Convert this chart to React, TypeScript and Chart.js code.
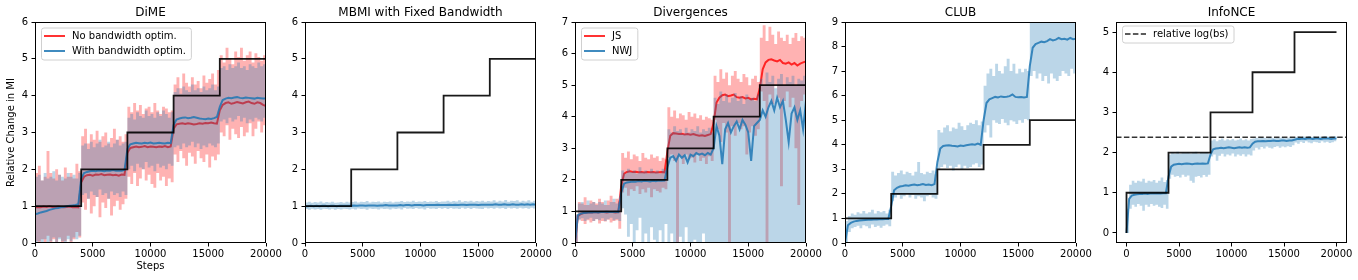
import React, { useEffect, useRef } from 'react';
import { Chart, registerables } from 'chart.js';

Chart.register(...registerables);

const FONT = '"DejaVu Sans", Verdana, sans-serif';

// sample positions (training steps) for all noisy series
const steps: number[] = Array.from({ length: 81 }, (_, i) => i * 250);
// ground truth (relative change in MI)
const truthSteps = [0, 0, 4000, 8000, 12000, 16000, 20000];
const truthValues = [0, 1, 2, 3, 4, 5, 5];
const xTicks = [0, 5000, 10000, 15000, 20000];
const logBsLevel = 2.38;

// ---------- DiME ----------
const dimeRedUpper = [
  1.9, 2.1, 1.7, 1.8, 2.5, 1.9, 1.75, 2.0, 1.85, 1.7, 2.05, 1.8, 1.9, 1.75, 2.15, 1.95,
  2.9, 3.1, 2.7, 2.95, 2.8, 3.05, 2.75, 2.9, 3.0, 2.7, 2.85, 3.1, 2.8, 2.9, 2.75, 2.95,
  3.7, 3.55, 3.8, 3.6, 3.75, 3.5, 3.65, 3.7, 3.55, 3.8, 3.6, 3.5, 3.7, 3.65, 3.55, 3.6,
  4.3, 4.5, 4.2, 4.6, 4.35, 4.25, 4.5, 4.3, 4.4, 4.2, 4.55, 4.35, 4.45, 4.6, 4.3, 4.7,
  5.1, 4.9, 5.3, 5.0, 4.85, 5.2, 5.05, 5.3, 4.95, 5.1, 5.2, 4.9, 5.15, 5.05, 4.95, 5.1, 5.0,
];
const dimeRedLower = [
  0.05, -0.1, 0.1, 0.0, 0.2, -0.05, 0.1, 0.0, 0.15, -0.1, 0.05, 0.2, 0.0, 0.1, 0.3, 0.15,
  1.1, 0.9, 1.2, 0.8, 1.0, 1.25, 0.7, 1.1, 0.95, 1.2, 0.75, 1.0, 1.15, 0.9, 1.05, 1.2,
  1.8, 1.6, 1.9, 1.55, 1.75, 2.0, 1.7, 1.85, 1.6, 1.5, 1.9, 1.7, 1.8, 1.55, 1.75, 1.65,
  2.4, 2.2, 2.5, 2.3, 2.1, 2.45, 2.35, 2.15, 2.5, 2.3, 2.2, 2.4, 2.05, 2.35, 2.25, 2.4,
  3.0, 2.9, 3.2, 2.8, 3.1, 2.95, 2.85, 3.15, 2.9, 3.0, 3.25, 2.9, 3.1, 3.3, 3.0, 3.2, 3.1,
];
const dimeRedMean = [
  0.97, 0.98, 0.97, 0.99, 0.98, 1.0, 0.98, 0.97, 0.99, 0.98, 0.97, 0.98, 0.99, 0.97, 0.98, 0.97,
  1.65, 1.8, 1.84, 1.85, 1.83, 1.86, 1.85, 1.87, 1.84, 1.85, 1.86, 1.84, 1.85, 1.83, 1.86, 1.85,
  2.45, 2.58, 2.6, 2.62, 2.6, 2.61, 2.63, 2.6, 2.62, 2.61, 2.6, 2.62, 2.61, 2.63, 2.6, 2.62,
  3.1, 3.22, 3.24, 3.25, 3.23, 3.25, 3.24, 3.22, 3.23, 3.25, 3.24, 3.26, 3.25, 3.27, 3.25, 3.24,
  3.6, 3.75, 3.8, 3.82, 3.78, 3.8, 3.83, 3.81, 3.79, 3.82, 3.84, 3.8, 3.78, 3.82, 3.8, 3.75, 3.72,
];
const dimeBlueUpper = [
  1.8, 1.85, 1.7, 1.9, 1.75, 1.8, 1.95, 1.7, 1.85, 1.8, 1.75, 1.9, 1.8, 1.85, 1.75, 1.9,
  2.65, 2.7, 2.55, 2.75, 2.6, 2.7, 2.8, 2.6, 2.65, 2.75, 2.6, 2.7, 2.8, 2.65, 2.7, 2.75,
  3.4, 3.5, 3.35, 3.55, 3.45, 3.4, 3.6, 3.45, 3.5, 3.4, 3.55, 3.45, 3.6, 3.5, 3.4, 3.55,
  4.1, 4.2, 4.05, 4.25, 4.15, 4.1, 4.3, 4.15, 4.2, 4.1, 4.25, 4.15, 4.2, 4.3, 4.15, 4.25,
  4.75, 4.8, 4.7, 4.85, 4.75, 4.8, 4.9, 4.75, 4.8, 4.7, 4.85, 4.8, 4.75, 4.9, 4.8, 4.85, 4.8,
];
const dimeBlueLower = [
  0.0, 0.05, -0.05, 0.1, 0.0, 0.05, 0.15, 0.0, 0.1, 0.05, 0.0, 0.1, 0.05, 0.15, 0.1, 0.2,
  1.3, 1.35, 1.2, 1.4, 1.3, 1.25, 1.45, 1.3, 1.35, 1.2, 1.4, 1.3, 1.35, 1.25, 1.4, 1.3,
  2.0, 2.1, 1.95, 2.15, 2.05, 2.0, 2.2, 2.05, 2.1, 1.95, 2.15, 2.05, 2.1, 2.0, 2.15, 2.1,
  2.6, 2.65, 2.55, 2.7, 2.6, 2.65, 2.75, 2.6, 2.7, 2.55, 2.65, 2.6, 2.7, 2.65, 2.6, 2.7,
  3.3, 3.35, 3.25, 3.4, 3.3, 3.35, 3.45, 3.3, 3.4, 3.25, 3.35, 3.3, 3.4, 3.35, 3.3, 3.4, 3.35,
];
const dimeBlueMean = [
  0.78, 0.8, 0.83, 0.85, 0.87, 0.9, 0.92, 0.94, 0.95, 0.97, 0.98, 1.0, 1.01, 1.02, 1.03, 1.05,
  1.75, 1.9, 1.93, 1.95, 1.96, 1.95, 1.97, 1.96, 1.95, 1.97, 1.96, 1.98, 1.96, 1.97, 1.96, 1.98,
  2.55, 2.68, 2.7, 2.72, 2.71, 2.7, 2.72, 2.71, 2.73, 2.7, 2.71, 2.72, 2.71, 2.7, 2.72, 2.71,
  3.2, 3.35, 3.38, 3.4, 3.41, 3.39, 3.4, 3.42, 3.4, 3.38, 3.37, 3.36, 3.38, 3.37, 3.39, 3.42,
  3.7, 3.88, 3.92, 3.94, 3.93, 3.95, 3.96, 3.94, 3.93, 3.95, 3.94, 3.93, 3.92, 3.94, 3.93, 3.92, 3.92,
];

// ---------- MBMI with fixed bandwidth ----------
const mbmiUpper = [
  1.1, 1.12, 1.09, 1.11, 1.1, 1.13, 1.09, 1.11, 1.1, 1.12, 1.09, 1.1, 1.11, 1.09, 1.12, 1.1,
  1.11, 1.13, 1.1, 1.12, 1.11, 1.14, 1.1, 1.12, 1.11, 1.13, 1.1, 1.12, 1.11, 1.13, 1.1, 1.12,
  1.12, 1.14, 1.11, 1.13, 1.12, 1.15, 1.11, 1.13, 1.12, 1.14, 1.11, 1.13, 1.12, 1.14, 1.11, 1.13,
  1.13, 1.15, 1.12, 1.14, 1.13, 1.16, 1.12, 1.14, 1.13, 1.15, 1.12, 1.14, 1.13, 1.15, 1.12, 1.14,
  1.13, 1.16, 1.12, 1.15, 1.13, 1.17, 1.12, 1.15, 1.14, 1.16, 1.12, 1.15, 1.13, 1.16, 1.12, 1.15, 1.14,
];
const mbmiLower = [
  0.92, 0.9, 0.93, 0.91, 0.92, 0.9, 0.93, 0.92, 0.91, 0.93, 0.9, 0.92, 0.91, 0.93, 0.92, 0.91,
  0.93, 0.91, 0.94, 0.92, 0.93, 0.9, 0.94, 0.92, 0.93, 0.91, 0.94, 0.92, 0.93, 0.91, 0.94, 0.92,
  0.94, 0.91, 0.95, 0.93, 0.94, 0.92, 0.95, 0.93, 0.94, 0.91, 0.95, 0.93, 0.94, 0.92, 0.95, 0.93,
  0.95, 0.92, 0.95, 0.93, 0.94, 0.92, 0.96, 0.93, 0.95, 0.92, 0.95, 0.94, 0.93, 0.92, 0.96, 0.94,
  0.95, 0.93, 0.96, 0.94, 0.95, 0.92, 0.96, 0.94, 0.95, 0.93, 0.96, 0.94, 0.95, 0.93, 0.96, 0.94, 0.95,
];
const mbmiMean = [
  1.0, 1.0, 1.01, 1.0, 1.01, 1.0, 1.01, 1.01, 1.0, 1.01, 1.01, 1.0, 1.01, 1.01, 1.01, 1.01,
  1.01, 1.02, 1.01, 1.02, 1.02, 1.01, 1.02, 1.02, 1.02, 1.01, 1.02, 1.02, 1.03, 1.02, 1.02, 1.02,
  1.02, 1.03, 1.02, 1.03, 1.03, 1.02, 1.03, 1.03, 1.03, 1.02, 1.03, 1.03, 1.03, 1.03, 1.04, 1.03,
  1.03, 1.03, 1.04, 1.03, 1.04, 1.03, 1.04, 1.04, 1.03, 1.04, 1.04, 1.04, 1.03, 1.04, 1.04, 1.04,
  1.04, 1.04, 1.05, 1.04, 1.04, 1.05, 1.04, 1.04, 1.05, 1.04, 1.04, 1.05, 1.04, 1.05, 1.04, 1.05, 1.04,
];

// ---------- Divergences ----------
const jsUpper = [
  0.9, 1.3, 1.25, 1.45, 1.2, 1.35, 1.3, 1.25, 1.4, 1.3, 1.2, 1.35, 1.5, 1.3, 1.4, 1.35,
  2.85, 2.7, 2.9, 2.65, 2.8, 2.75, 2.6, 2.85, 2.7, 2.65, 2.8, 2.7, 2.75, 2.6, 2.7, 2.65,
  4.3, 4.0, 4.2, 3.95, 4.1, 4.05, 3.9, 4.15, 4.0, 4.1, 3.95, 4.05, 3.9, 4.0, 3.95, 3.9,
  5.3, 5.1, 5.5, 5.2, 5.4, 5.0, 5.3, 5.45, 5.2, 5.1, 5.35, 5.25, 5.0, 5.2, 5.3, 5.1,
  6.5, 6.9, 6.4, 6.85, 6.6, 6.3, 6.7, 6.5, 6.4, 6.6, 6.3, 6.5, 6.65, 6.4, 6.55, 6.5, 6.5,
];
const jsLower = [
  0.0, 0.75, 0.7, 0.6, 0.72, 0.65, 0.7, 0.75, 0.62, 0.7, 0.68, 0.74, 0.65, 0.7, 0.72, 0.45,
  1.6, 1.75, 1.5, 1.7, 1.65, 1.8, 1.55, 1.7, 1.6, 1.75, 1.45, 1.7, 1.65, 1.6, 1.75, 1.7,
  2.7, 2.8, 2.6, 0.0, 2.75, 2.5, 2.8, 2.65, 2.7, 2.55, 2.8, 2.6, 2.7, 2.5, 2.75, 2.6,
  3.9, 3.6, 3.2, 3.8, 3.5, 0.0, 3.7, 3.4, 3.8, 3.6, 3.7, 2.8, 3.5, 3.7, 3.4, 3.6,
  4.8, 4.5, 0.0, 4.7, 4.4, 5.0, 4.6, 1.8, 4.5, 4.8, 4.3, 4.6, 3.0, 1.2, 4.5, 4.7, 4.6,
];
const jsMean = [
  0.0, 0.85, 0.92, 0.95, 0.96, 0.97, 0.97, 0.98, 0.97, 0.98, 0.98, 0.97, 0.98, 0.98, 0.97, 0.98,
  1.8, 2.2, 2.25, 2.27, 2.25, 2.26, 2.24, 2.25, 2.23, 2.25, 2.24, 2.25, 2.23, 2.24, 2.25, 2.24,
  2.9, 3.4, 3.48, 3.47, 3.45, 3.46, 3.44, 3.45, 3.43, 3.45, 3.42, 3.4, 3.41, 3.39, 3.42, 3.45,
  3.8, 4.45, 4.6, 4.68, 4.7, 4.65, 4.67, 4.7, 4.62, 4.6, 4.62, 4.58, 4.6, 4.55, 4.57, 4.55,
  4.9, 5.5, 5.72, 5.8, 5.82, 5.78, 5.75, 5.8, 5.7, 5.68, 5.72, 5.65, 5.7, 5.62, 5.68, 5.72, 5.75,
];
const nwjUpper = [
  0.9, 1.25, 1.3, 1.2, 1.35, 1.25, 1.3, 1.2, 1.3, 1.25, 1.35, 1.2, 1.3, 1.4, 1.25, 1.3,
  2.3, 2.2, 2.35, 2.25, 2.3, 2.2, 2.4, 2.25, 2.3, 2.2, 2.35, 2.25, 2.3, 2.2, 2.35, 2.3,
  3.6, 3.5, 3.7, 3.55, 3.6, 3.45, 3.65, 3.5, 3.6, 3.55, 3.7, 3.5, 3.6, 3.55, 3.65, 3.5,
  4.6, 4.4, 4.8, 4.5, 4.7, 4.45, 4.6, 4.75, 4.5, 4.65, 4.4, 4.7, 4.55, 4.6, 4.5, 4.7,
  5.2, 5.0, 5.4, 5.1, 5.3, 4.9, 5.2, 5.35, 5.0, 5.25, 5.1, 5.3, 5.0, 5.2, 5.15, 5.3, 5.2,
];
const nwjLower = [
  0.0, 0.72, 0.78, 0.7, 0.75, 0.8, 0.7, 0.76, 0.72, 0.78, 0.7, 0.75, 0.8, 0.72, 0.76, 0.7,
  1.1, 0.9, 0.2, 0.6, 0.0, 0.4, 0.8, 0.0, 0.3, 0.0, 0.5, 0.1, 0.0, 0.4, 0.0, 0.6,
  0.0, 0.3, 0.0, 0.0, 0.2, 0.0, 0.5, 0.0, 0.0, 0.1, 0.0, 0.0, 0.3, 0.0, 0.0, 0.0,
  0, 0, 0, 0, 0, 0, 0, 0, 0, 0, 0, 0, 0, 0, 0, 0,
  0, 0, 0, 0, 0, 0, 0, 0, 0, 0, 0, 0, 0, 0, 0, 0, 0,
];
const nwjMean = [
  0.0, 0.88, 0.93, 0.95, 0.96, 0.97, 0.97, 0.98, 0.97, 0.98, 0.98, 0.99, 0.98, 0.98, 0.99, 0.98,
  1.6, 1.88, 1.92, 1.93, 1.95, 1.94, 1.96, 1.95, 1.97, 1.96, 1.95, 1.97, 1.96, 1.98, 1.97, 1.98,
  2.4, 2.7, 2.75, 2.6, 2.8, 2.7, 2.78, 2.55, 2.8, 2.75, 2.85, 2.8, 2.83, 2.78, 2.85, 2.8,
  3.0, 3.7, 3.4, 2.5, 3.6, 3.8, 3.5, 3.7, 3.85, 3.6, 3.9, 3.75, 3.5, 2.6, 3.7, 3.8,
  3.9, 4.2, 4.0, 4.3, 4.5, 4.2, 4.6, 4.3, 4.5, 3.9, 3.2, 4.1, 4.3, 3.9, 4.2, 3.6, 4.5,
];

// ---------- CLUB ----------
const clubUpper = [
  0.9, 1.1, 1.2, 1.15, 1.25, 1.2, 1.3, 1.2, 1.25, 1.35, 1.2, 1.3, 1.25, 1.3, 1.2, 1.35,
  2.9, 2.75, 2.85, 2.95, 2.8, 2.9, 2.85, 2.75, 2.9, 3.3, 2.85, 2.8, 2.9, 2.85, 2.95, 2.8,
  4.6, 4.5, 4.7, 4.8, 4.55, 4.7, 4.65, 4.9, 4.75, 4.6, 4.8, 4.9, 4.85, 5.0, 4.8, 4.95,
  6.4, 6.9, 7.1, 6.8, 7.3, 7.0, 6.9, 7.2, 7.5, 7.0, 7.3, 6.9, 7.1, 6.95, 7.1, 7.0,
  9.6, 9.8, 9.5, 10.0, 9.7, 9.9, 9.6, 10.1, 9.8, 9.7, 9.9, 10.0, 9.6, 9.8, 9.9, 9.7, 9.8,
];
const clubLower = [
  0.0, 0.45, 0.6, 0.65, 0.7, 0.6, 0.72, 0.68, 0.6, 0.75, 0.65, 0.7, 0.62, 0.7, 0.75, 0.68,
  1.7, 1.85, 1.95, 1.8, 1.9, 2.0, 1.85, 1.95, 1.8, 1.9, 1.85, 1.7, 1.9, 1.95, 1.85, 1.8,
  3.0, 3.1, 3.2, 3.05, 3.15, 2.95, 3.1, 3.2, 3.0, 3.15, 3.05, 3.1, 3.2, 3.25, 3.1, 3.2,
  4.5, 4.8, 4.3, 5.0, 4.9, 4.85, 5.05, 4.9, 4.8, 5.0, 4.95, 4.85, 5.0, 4.9, 5.05, 5.0,
  6.8, 7.0, 6.7, 6.9, 6.6, 6.8, 6.5, 6.9, 6.7, 6.6, 6.8, 7.0, 6.9, 6.8, 7.1, 6.9, 7.0,
];
const clubMean = [
  0.0, 0.72, 0.82, 0.87, 0.9, 0.92, 0.93, 0.94, 0.95, 0.95, 0.96, 0.96, 0.97, 0.97, 0.98, 0.98,
  1.5, 2.15, 2.25, 2.3, 2.32, 2.35, 2.33, 2.36, 2.38, 2.35, 2.37, 2.4, 2.36, 2.38, 2.35, 2.4,
  3.3, 3.85, 3.95, 3.97, 3.98, 3.96, 3.95, 3.93, 3.97, 3.95, 3.98, 4.0, 4.02, 4.0, 4.05, 4.0,
  5.0, 5.7, 5.85, 5.9, 5.95, 5.93, 5.97, 5.95, 5.96, 5.98, 6.05, 5.95, 5.94, 5.95, 5.93, 5.95,
  7.2, 7.95, 8.1, 8.15, 8.2, 8.18, 8.22, 8.3, 8.25, 8.28, 8.35, 8.3, 8.32, 8.28, 8.35, 8.3, 8.32,
];

// ---------- InfoNCE ----------
const nceUpper = [
  0.6, 1.2, 1.3, 1.25, 1.3, 1.28, 1.35, 1.25, 1.3, 1.28, 1.32, 1.25, 1.3, 1.38, 1.27, 1.32,
  1.95, 2.0, 1.98, 2.02, 1.97, 2.0, 1.99, 2.01, 1.98, 2.0, 2.02, 1.97, 2.0, 1.99, 2.01, 1.98,
  2.3, 2.33, 2.28, 2.32, 2.35, 2.3, 2.33, 2.31, 2.34, 2.3, 2.32, 2.35, 2.31, 2.33, 2.3, 2.34,
  2.35, 2.37, 2.36, 2.38, 2.37, 2.36, 2.38, 2.37, 2.36, 2.38, 2.37, 2.38, 2.36, 2.37, 2.38, 2.37,
  2.39, 2.4, 2.38, 2.4, 2.39, 2.41, 2.39, 2.4, 2.38, 2.4, 2.39, 2.41, 2.4, 2.39, 2.4, 2.41, 2.4,
];
const nceLower = [
  0.0, 0.6, 0.7, 0.65, 0.72, 0.68, 0.55, 0.7, 0.65, 0.72, 0.68, 0.7, 0.65, 0.62, 0.7, 0.6,
  1.35, 1.45, 1.4, 1.42, 1.38, 1.45, 1.4, 1.43, 1.3, 1.25, 1.4, 1.42, 1.38, 1.44, 1.4, 1.45,
  1.9, 1.95, 1.8, 1.92, 1.97, 1.9, 1.95, 1.93, 1.98, 1.9, 1.95, 1.92, 1.96, 1.9, 1.95, 1.93,
  2.05, 2.12, 2.08, 2.14, 2.1, 2.15, 2.12, 2.1, 2.14, 2.16, 2.12, 2.15, 2.13, 2.16, 2.14, 2.18,
  2.25, 2.22, 2.27, 2.24, 2.28, 2.25, 2.23, 2.27, 2.26, 2.24, 2.28, 2.25, 2.27, 2.24, 2.26, 2.28, 2.26,
];
const nceMean = [
  0.0, 0.85, 0.93, 0.95, 0.96, 0.97, 0.97, 0.98, 0.97, 0.98, 0.98, 0.98, 0.99, 0.98, 0.99, 0.99,
  1.4, 1.65, 1.7, 1.71, 1.72, 1.71, 1.72, 1.73, 1.72, 1.71, 1.72, 1.73, 1.72, 1.73, 1.72, 1.73,
  1.95, 2.08, 2.1, 2.11, 2.12, 2.11, 2.12, 2.13, 2.12, 2.11, 2.12, 2.13, 2.12, 2.13, 2.12, 2.13,
  2.22, 2.27, 2.28, 2.28, 2.29, 2.28, 2.29, 2.29, 2.3, 2.29, 2.29, 2.3, 2.3, 2.29, 2.3, 2.3,
  2.32, 2.34, 2.34, 2.35, 2.34, 2.35, 2.35, 2.34, 2.35, 2.35, 2.34, 2.35, 2.35, 2.35, 2.34, 2.35, 2.35,
];

const RED_LINE = 'rgba(255,0,0,0.8)';
const RED_FILL = 'rgba(255,0,0,0.3)';
const BLUE_LINE = 'rgba(31,119,180,0.85)';
const BLUE_FILL = 'rgba(31,119,180,0.3)';
const TRUTH = 'rgba(0,0,0,0.9)';

type Band = { upper: number[]; lower: number[]; mean: number[]; line: string; fill: string };
type LegendItem = { label: string; color: string; dash?: boolean };
type Panel = {
  title: string;
  left: number;
  width: number;
  padRight: number;
  xMin: number;
  xMax: number;
  yMin: number;
  yMax: number;
  yTicks: number[];
  bands: Band[];
  hline?: number;
  legend?: { items: LegendItem[]; top: number };
  yTitle?: string;
  xTitle?: string;
};

const panels: Panel[] = [
  {
    title: 'DiME', left: 35, width: 231, padRight: 24, xMin: 0, xMax: 20000, yMin: 0, yMax: 6,
    yTicks: [0, 1, 2, 3, 4, 5, 6],
    bands: [
      { upper: dimeRedUpper, lower: dimeRedLower, mean: dimeRedMean, line: RED_LINE, fill: RED_FILL },
      { upper: dimeBlueUpper, lower: dimeBlueLower, mean: dimeBlueMean, line: BLUE_LINE, fill: BLUE_FILL },
    ],
    legend: {
      top: 5.5,
      items: [
        { label: 'No bandwidth optim.', color: RED_LINE },
        { label: 'With bandwidth optim.', color: BLUE_LINE },
      ],
    },
    yTitle: 'Relative Change in MI',
    xTitle: 'Steps',
  },
  {
    title: 'MBMI with Fixed Bandwidth', left: 305, width: 231, padRight: 24, xMin: 0, xMax: 20000, yMin: 0, yMax: 6,
    yTicks: [0, 1, 2, 3, 4, 5, 6],
    bands: [{ upper: mbmiUpper, lower: mbmiLower, mean: mbmiMean, line: BLUE_LINE, fill: BLUE_FILL }],
  },
  {
    title: 'Divergences', left: 575, width: 231, padRight: 24, xMin: 0, xMax: 20000, yMin: 0, yMax: 7,
    yTicks: [0, 1, 2, 3, 4, 5, 6, 7],
    bands: [
      { upper: jsUpper, lower: jsLower, mean: jsMean, line: RED_LINE, fill: RED_FILL },
      { upper: nwjUpper, lower: nwjLower, mean: nwjMean, line: BLUE_LINE, fill: BLUE_FILL },
    ],
    legend: {
      top: 5.5,
      items: [
        { label: 'JS', color: RED_LINE },
        { label: 'NWJ', color: BLUE_LINE },
      ],
    },
  },
  {
    title: 'CLUB', left: 845, width: 231, padRight: 24, xMin: 0, xMax: 20000, yMin: 0, yMax: 9,
    yTicks: [0, 1, 2, 3, 4, 5, 6, 7, 8, 9],
    bands: [{ upper: clubUpper, lower: clubLower, mean: clubMean, line: BLUE_LINE, fill: BLUE_FILL }],
  },
  {
    title: 'InfoNCE', left: 1116, width: 231, padRight: 8, xMin: -1000, xMax: 21000, yMin: -0.25, yMax: 5.25,
    yTicks: [0, 1, 2, 3, 4, 5],
    bands: [{ upper: nceUpper, lower: nceLower, mean: nceMean, line: BLUE_LINE, fill: BLUE_FILL }],
    hline: logBsLevel,
    legend: { top: 3.5, items: [{ label: 'relative log(bs)', color: 'rgba(0,0,0,0.85)', dash: true }] },
  },
];

const pts = (xs: number[], ys: number[]) => xs.map((x, i) => ({ x, y: ys[i] }));

function buildDatasets(p: Panel) {
  const ds: any[] = [];
  let order = 100;
  p.bands.forEach((b) => {
    const lowerIdx = ds.length;
    ds.push({
      data: pts(steps, b.lower), borderWidth: 0, borderColor: 'rgba(0,0,0,0)', pointRadius: 0,
      stepped: true, fill: false, order: order--,
    });
    ds.push({
      data: pts(steps, b.upper), borderWidth: 0, borderColor: 'rgba(0,0,0,0)', pointRadius: 0,
      stepped: true, fill: lowerIdx, backgroundColor: b.fill, order: order--,
    });
    ds.push({
      data: pts(steps, b.mean), borderColor: b.line, borderWidth: 2, pointRadius: 0,
      fill: false, order: order--,
    });
  });
  if (p.hline !== undefined) {
    ds.push({
      data: [{ x: p.xMin, y: p.hline }, { x: p.xMax, y: p.hline }],
      borderColor: 'rgba(0,0,0,0.8)', borderWidth: 1.6, borderDash: [5.5, 2.4], pointRadius: 0,
      fill: false, order: 2,
    });
  }
  ds.push({
    data: pts(truthSteps, truthValues), borderColor: TRUTH, borderWidth: 1.8, pointRadius: 0,
    stepped: true, fill: false, order: 1,
  });
  return ds;
}

const decorPlugin = {
  id: 'decor',
  afterDraw(chart: any) {
    const cfg = chart.options.plugins.decor as Panel;
    const ctx = chart.ctx as CanvasRenderingContext2D;
    const a = chart.chartArea;
    ctx.save();
    // frame
    ctx.strokeStyle = '#000';
    ctx.lineWidth = 1;
    ctx.strokeRect(a.left + 0.5, a.top + 0.5, a.right - a.left - 1, a.bottom - a.top - 1);
    // title
    ctx.fillStyle = '#000';
    ctx.font = `12px ${FONT}`;
    ctx.textAlign = 'center';
    ctx.textBaseline = 'middle';
    ctx.fillText(cfg.title, (a.left + a.right) / 2, 12.5);
    ctx.font = `10px ${FONT}`;
    if (cfg.xTitle) ctx.fillText(cfg.xTitle, (a.left + a.right) / 2, 266);
    if (cfg.yTitle) {
      ctx.save();
      ctx.translate(11, (a.top + a.bottom) / 2);
      ctx.rotate(-Math.PI / 2);
      ctx.fillText(cfg.yTitle, 0, 0);
      ctx.restore();
    }
    // legend
    if (cfg.legend) {
      const items = cfg.legend.items;
      ctx.font = `10px ${FONT}`;
      const tw = Math.max(...items.map((it) => ctx.measureText(it.label).width));
      const x0 = a.left + 6;
      const y0 = a.top + cfg.legend.top;
      const w = 31 + tw + 5;
      const h = 17 + 15 * (items.length - 1);
      ctx.beginPath();
      (ctx as any).roundRect(x0 + 0.5, y0 + 0.5, w, h, 2.5);
      ctx.fillStyle = 'rgba(255,255,255,0.8)';
      ctx.fill();
      ctx.strokeStyle = '#d0d0d0';
      ctx.lineWidth = 1;
      ctx.stroke();
      items.forEach((it, i) => {
        const cy = y0 + 8.5 + i * 15;
        ctx.beginPath();
        ctx.strokeStyle = it.color;
        ctx.lineWidth = it.dash ? 1.6 : 2;
        ctx.setLineDash(it.dash ? [5.5, 2.4] : []);
        ctx.moveTo(x0 + 3, cy);
        ctx.lineTo(x0 + 24, cy);
        ctx.stroke();
        ctx.setLineDash([]);
        ctx.fillStyle = '#000';
        ctx.textAlign = 'left';
        ctx.textBaseline = 'middle';
        ctx.fillText(it.label, x0 + 31, cy + 0.5);
      });
    }
    ctx.restore();
  },
};

function PanelChart({ p }: { p: Panel }) {
  const ref = useRef<HTMLCanvasElement | null>(null);
  const cw = 35 + p.width + p.padRight;
  useEffect(() => {
    if (!ref.current) return;
    const yTicks = p.yTicks;
    const chart = new Chart(ref.current, {
      type: 'line',
      data: { datasets: buildDatasets(p) },
      plugins: [decorPlugin],
      options: {
        responsive: false,
        animation: false,
        devicePixelRatio: 1,
        events: [],
        layout: { padding: { left: 0, right: p.padRight, top: 22, bottom: 0 } },
        plugins: {
          legend: { display: false },
          tooltip: { enabled: false },
          title: { display: false },
          decor: p,
        } as any,
        scales: {
          x: {
            type: 'linear',
            min: p.xMin,
            max: p.xMax,
            afterBuildTicks: (s: any) => { s.ticks = xTicks.map((v) => ({ value: v })); },
            afterFit: (s: any) => { s.height = 37; },
            ticks: {
              callback: (v: any) => String(v),
              font: { family: FONT, size: 10 },
              color: '#000',
              padding: 2,
              maxRotation: 0,
              autoSkip: false,
            },
            grid: { drawOnChartArea: false, drawTicks: true, tickLength: 3.5, color: '#000', lineWidth: 1 },
            border: { display: false },
          },
          y: {
            type: 'linear',
            min: p.yMin,
            max: p.yMax,
            afterBuildTicks: (s: any) => { s.ticks = yTicks.map((v) => ({ value: v })); },
            afterFit: (s: any) => { s.width = 35; },
            ticks: {
              callback: (v: any) => String(v),
              font: { family: FONT, size: 10 },
              color: '#000',
              padding: 3.5,
              autoSkip: false,
            },
            grid: { drawOnChartArea: false, drawTicks: true, tickLength: 3.5, color: '#000', lineWidth: 1 },
            border: { display: false },
          },
        },
      } as any,
    });
    return () => chart.destroy();
  }, []);
  return (
    <canvas
      ref={ref}
      width={cw}
      height={280}
      style={{ position: 'absolute', left: p.left - 35, top: 0, width: cw, height: 280 }}
    />
  );
}

export default function App() {
  return (
    <div style={{ position: 'absolute', left: 0, top: 0, width: 1358, height: 280, background: '#fff', overflow: 'hidden' }}>
      {panels.map((p, i) => (
        <PanelChart key={i} p={p} />
      ))}
    </div>
  );
}
